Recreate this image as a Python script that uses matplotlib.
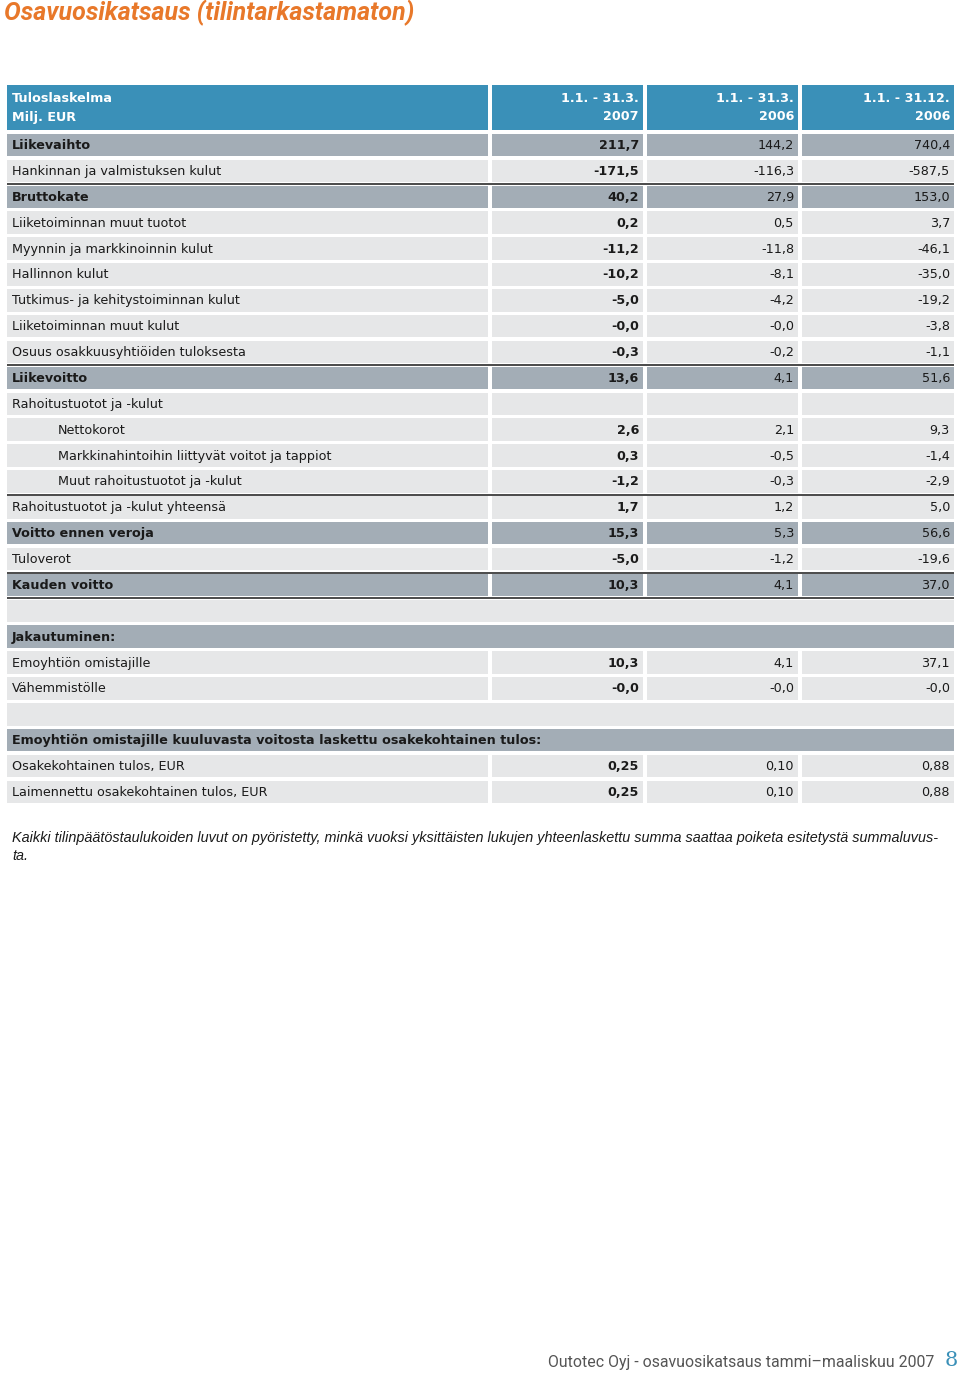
import matplotlib
matplotlib.use("Agg")
import matplotlib.pyplot as plt
from matplotlib.patches import Rectangle

# ---------------- data ----------------
title = "Osavuosikatsaus (tilintarkastamaton)"
header_label = ["Tuloslaskelma", "Milj. EUR"]
col_headers = [["1.1. - 31.3.", "2007"], ["1.1. - 31.3.", "2006"], ["1.1. - 31.12.", "2006"]]

labels = [
    "Liikevaihto", "Hankinnan ja valmistuksen kulut", "Bruttokate",
    "Liiketoiminnan muut tuotot", "Myynnin ja markkinoinnin kulut", "Hallinnon kulut",
    "Tutkimus- ja kehitystoiminnan kulut", "Liiketoiminnan muut kulut",
    "Osuus osakkuusyhtiöiden tuloksesta", "Liikevoitto", "Rahoitustuotot ja -kulut",
    "Nettokorot", "Markkinahintoihin liittyvät voitot ja tappiot",
    "Muut rahoitustuotot ja -kulut", "Rahoitustuotot ja -kulut yhteensä",
    "Voitto ennen veroja", "Tuloverot", "Kauden voitto", "",
    "Jakautuminen:", "Emoyhtiön omistajille", "Vähemmistölle", "",
    "Emoyhtiön omistajille kuuluvasta voitosta laskettu osakekohtainen tulos:",
    "Osakekohtainen tulos, EUR", "Laimennettu osakekohtainen tulos, EUR",
]
q1_2007 = ["211,7", "-171,5", "40,2", "0,2", "-11,2", "-10,2", "-5,0", "-0,0", "-0,3",
           "13,6", "", "2,6", "0,3", "-1,2", "1,7", "15,3", "-5,0", "10,3", "",
           "", "10,3", "-0,0", "", "", "0,25", "0,25"]
q1_2006 = ["144,2", "-116,3", "27,9", "0,5", "-11,8", "-8,1", "-4,2", "-0,0", "-0,2",
           "4,1", "", "2,1", "-0,5", "-0,3", "1,2", "5,3", "-1,2", "4,1", "",
           "", "4,1", "-0,0", "", "", "0,10", "0,10"]
fy_2006 = ["740,4", "-587,5", "153,0", "3,7", "-46,1", "-35,0", "-19,2", "-3,8", "-1,1",
           "51,6", "", "9,3", "-1,4", "-2,9", "5,0", "56,6", "-19,6", "37,0", "",
           "", "37,1", "-0,0", "", "", "0,88", "0,88"]
# row kinds: D = dark split row, L = light split row, E = empty full-width light, S = full-width dark section
kinds = ["D", "L", "D", "L", "L", "L", "L", "L", "L", "D", "L", "L", "L", "L", "L",
         "D", "L", "D", "E", "S", "L", "L", "E", "S", "L", "L"]
indented = [11, 12, 13]
line_above = [2, 9, 14, 17, 18]

footnote_lines = ["Kaikki tilinpäätöstaulukoiden luvut on pyöristetty, minkä vuoksi yksittäisten "
                  "lukujen yhteenlaskettu summa saattaa poiketa esitetystä summaluvus-", "ta."]
footer = "Outotec Oyj - osavuosikatsaus tammi\u2013maaliskuu 2007"
page_no = "8"

# ---------------- style ----------------
BLUE = "#3A90B8"
DARK = "#A3ADB6"
LIGHT = "#E6E7E8"
LINE = "#4A4A4A"
TXT = "#1A1A1A"
ORANGE = "#E8782A"
FS = 9.2

cols_x = [(7, 488), (492, 643), (647, 798), (802, 954)]
Y0, PITCH, CH = 145, 25.88, 22.5

fig = plt.figure(figsize=(9.6, 13.76), dpi=100)
ax = fig.add_axes([0, 0, 1, 1])
ax.set_xlim(0, 960)
ax.set_ylim(1376, 0)
ax.axis("off")

ax.text(4, 13, title, color=ORANGE, fontsize=18, fontweight="bold", fontstyle="italic",
        family="Roboto", va="center", ha="left")

# header
for x0, x1 in cols_x:
    ax.add_patch(Rectangle((x0, 85), x1 - x0, 45, facecolor=BLUE, edgecolor="none"))
ax.text(12, 99, header_label[0], color="white", fontsize=FS, fontweight="bold", va="center")
ax.text(12, 117, header_label[1], color="white", fontsize=FS, fontweight="bold", va="center")
for (x0, x1), (l1, l2) in zip(cols_x[1:], col_headers):
    ax.text(x1 - 4, 99, l1, color="white", fontsize=FS, fontweight="bold", va="center", ha="right")
    ax.text(x1 - 4, 117, l2, color="white", fontsize=FS, fontweight="bold", va="center", ha="right")

values = [q1_2007, q1_2006, fy_2006]
for i, (lab, kind) in enumerate(zip(labels, kinds)):
    yc = Y0 + i * PITCH
    top = yc - CH / 2
    fill = DARK if kind in ("D", "S") else LIGHT
    if kind in ("E", "S"):
        ax.add_patch(Rectangle((cols_x[0][0], top), cols_x[-1][1] - cols_x[0][0], CH,
                               facecolor=fill, edgecolor="none"))
    else:
        for x0, x1 in cols_x:
            ax.add_patch(Rectangle((x0, top), x1 - x0, CH, facecolor=fill, edgecolor="none"))
    bold = kind in ("D", "S")
    xl = 58 if i in indented else 12
    ax.text(xl, yc + 0.5, lab, color=TXT, fontsize=FS, fontweight="bold" if bold else "normal",
            va="center", ha="left")
    if kind in ("D", "L"):
        for j, (vals, (x0, x1)) in enumerate(zip(values, cols_x[1:])):
            ax.text(x1 - 4, yc + 0.5, vals[i], color=TXT, fontsize=FS,
                    fontweight="bold" if j == 0 else "normal", va="center", ha="right")
    if i in line_above:
        ax.plot([cols_x[0][0], cols_x[-1][1]], [top - 1.2, top - 1.2], color=LINE, lw=1.4,
                solid_capstyle="butt")

for k, line in enumerate(footnote_lines):
    ax.text(12, 838 + k * 18, line, color=TXT, fontsize=10.4, fontstyle="italic",
            family="Liberation Sans", va="center", ha="left")

ax.text(934, 1363, footer, color="#555555", fontsize=11.4, family="Roboto",
        va="center", ha="right")
ax.text(945, 1361, page_no, color=BLUE, fontsize=15, family="DejaVu Serif",
        va="center", ha="left")

fig.savefig("out.png", dpi=100)
